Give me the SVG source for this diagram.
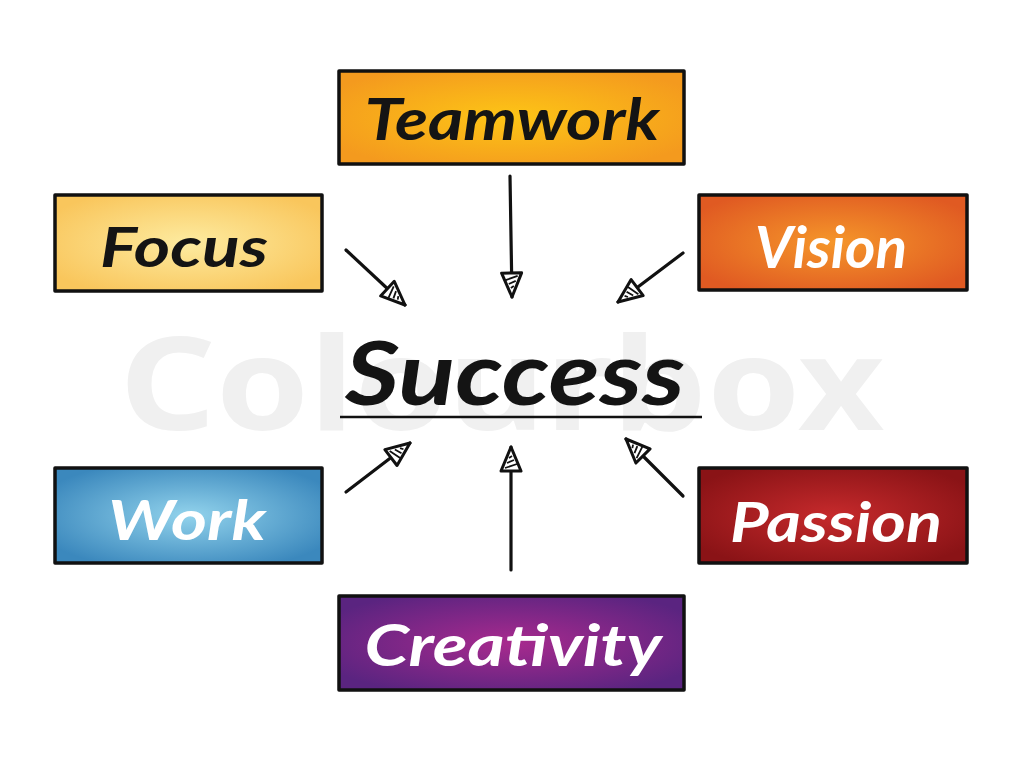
<svg xmlns="http://www.w3.org/2000/svg" width="1024" height="768" viewBox="0 0 1024 768">
<style>
.box{stroke:#111;stroke-width:3.5;stroke-linejoin:round}
.lbl{font-family:"Lato","DejaVu Sans",sans-serif;font-weight:bold;font-style:italic;text-anchor:middle}
.dark{fill:#141414}
.light{fill:#ffffff}
.conn{stroke:#111;stroke-width:3.2;fill:none;stroke-linecap:round}
.wm{font-family:"Noto Sans","DejaVu Sans",sans-serif;font-weight:bold;fill:#f0f0f0;text-anchor:middle}
</style>
<defs>
<radialGradient id="gTeam" cx="0.5" cy="0.5" r="0.6"><stop offset="0" stop-color="#fdc516"/><stop offset="1" stop-color="#f49a1e"/></radialGradient>
<radialGradient id="gFocus" cx="0.5" cy="0.5" r="0.6"><stop offset="0" stop-color="#fdeba0"/><stop offset="1" stop-color="#f9c65c"/></radialGradient>
<radialGradient id="gVision" cx="0.5" cy="0.5" r="0.6"><stop offset="0" stop-color="#f5962a"/><stop offset="1" stop-color="#e05a22"/></radialGradient>
<radialGradient id="gWork" cx="0.5" cy="0.5" r="0.6"><stop offset="0" stop-color="#92d3ec"/><stop offset="1" stop-color="#3b88bd"/></radialGradient>
<radialGradient id="gPassion" cx="0.5" cy="0.5" r="0.6"><stop offset="0" stop-color="#c62a2c"/><stop offset="1" stop-color="#8a1316"/></radialGradient>
<radialGradient id="gCreat" cx="0.5" cy="0.5" r="0.6"><stop offset="0" stop-color="#a82a8e"/><stop offset="1" stop-color="#5a2480"/></radialGradient>
<marker id="arr" viewBox="0 0 28 24" refX="26" refY="12" markerWidth="28" markerHeight="24" markerUnits="userSpaceOnUse" orient="auto">
<path d="M2,2 L26,12 L2,22 Z" fill="#fff" stroke="#111" stroke-width="3" stroke-linejoin="round"/>
<path d="M5,6 L9,18 M10,8 L13,15 M15,10 L17,13" stroke="#111" stroke-width="1.8"/>
</marker>
</defs>
<rect width="1024" height="768" fill="#ffffff"/>
<text class="wm" x="502" y="430" font-size="130" textLength="765" lengthAdjust="spacingAndGlyphs">Colourbox</text>

<g id="connectors">
<line class="conn" x1="346" y1="250" x2="405" y2="305" marker-end="url(#arr)"/>
<line class="conn" x1="510" y1="176" x2="512" y2="297" marker-end="url(#arr)"/>
<line class="conn" x1="683" y1="253" x2="618" y2="302" marker-end="url(#arr)"/>
<line class="conn" x1="346" y1="492" x2="410" y2="443" marker-end="url(#arr)"/>
<line class="conn" x1="511" y1="570" x2="511" y2="447" marker-end="url(#arr)"/>
<line class="conn" x1="683" y1="496" x2="626" y2="439" marker-end="url(#arr)"/>
</g>

<g id="success">
<text class="lbl dark" x="515" y="405" font-size="88" font-style="normal" textLength="340" lengthAdjust="spacingAndGlyphs">Success</text>
<line x1="340" y1="417" x2="702" y2="417" stroke="#111" stroke-width="2.5"/>
</g>

<g id="teamwork">
<rect class="box" x="339" y="71" width="345" height="93" fill="url(#gTeam)"/>
<text class="lbl dark" x="512" y="140" font-size="58" textLength="295" lengthAdjust="spacingAndGlyphs">Teamwork</text>
</g>
<g id="focus">
<rect class="box" x="55" y="195" width="267" height="96" fill="url(#gFocus)"/>
<text class="lbl dark" x="184" y="267" font-size="56" textLength="168" lengthAdjust="spacingAndGlyphs">Focus</text>
</g>
<g id="vision">
<rect class="box" x="699" y="195" width="268" height="95" fill="url(#gVision)"/>
<text class="lbl light" x="831" y="268" font-size="58" textLength="152" lengthAdjust="spacingAndGlyphs">Vision</text>
</g>
<g id="work">
<rect class="box" x="55" y="468" width="267" height="95" fill="url(#gWork)"/>
<text class="lbl light" x="187" y="540" font-size="56" textLength="158" lengthAdjust="spacingAndGlyphs">Work</text>
</g>
<g id="passion">
<rect class="box" x="699" y="468" width="268" height="95" fill="url(#gPassion)"/>
<text class="lbl light" x="836" y="542" font-size="56" textLength="212" lengthAdjust="spacingAndGlyphs">Passion</text>
</g>
<g id="creativity">
<rect class="box" x="339" y="596" width="345" height="94" fill="url(#gCreat)"/>
<text class="lbl light" x="513" y="666" font-size="58" textLength="297" lengthAdjust="spacingAndGlyphs">Creativity</text>
</g>
</svg>
